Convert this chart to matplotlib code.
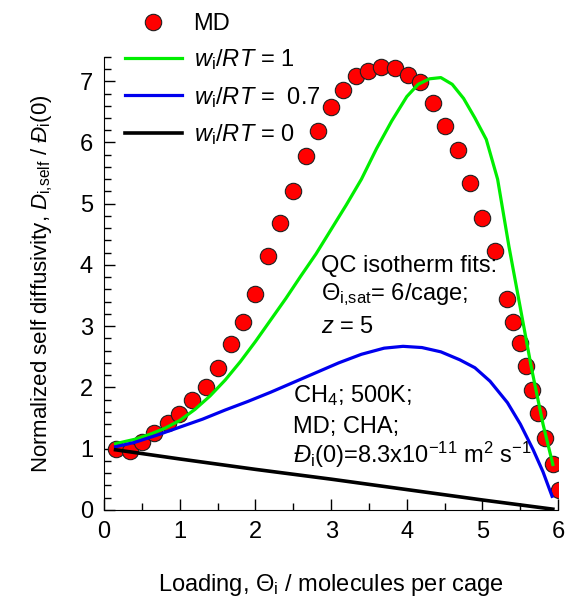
# ==========================================
# plot.py
# Normalized self diffusivity of CH4 in CHA
# ==========================================

import numpy as np
import matplotlib
matplotlib.use("Agg")
import matplotlib.pyplot as plt
from matplotlib.ticker import MultipleLocator

# ==========================================
# DATA
# ==========================================

md_loading = [0.15, 0.34, 0.50, 0.66, 0.85, 0.99, 1.16, 1.34, 1.51, 1.67,
              1.84, 2.00, 2.17, 2.33, 2.50, 2.67, 2.83, 3.00, 3.16, 3.33,
              3.49, 3.66, 3.84, 4.01, 4.17, 4.34, 4.50, 4.67, 4.83, 5.00,
              5.16, 5.33, 5.41, 5.50, 5.58, 5.66, 5.74, 5.83, 5.93, 6.01]
md_diff = [1.00, 0.96, 1.11, 1.26, 1.42, 1.57, 1.80, 2.01, 2.32, 2.71,
           3.07, 3.53, 4.15, 4.69, 5.20, 5.78, 6.18, 6.58, 6.86, 7.09,
           7.16, 7.24, 7.21, 7.11, 6.99, 6.65, 6.27, 5.88, 5.34, 4.77,
           4.22, 3.45, 3.07, 2.73, 2.35, 1.96, 1.58, 1.18, 0.75, 0.33]

w1_loading = [0.15, 0.4, 0.6, 0.8, 1.0, 1.2, 1.4, 1.6, 1.8, 2.0, 2.2,
              2.4, 2.6, 2.8, 3.0, 3.2, 3.4, 3.6, 3.8, 4.0, 4.15, 4.3,
              4.45, 4.6, 4.75, 4.9, 5.05, 5.2, 5.35, 5.5, 5.65, 5.8, 5.93]
w1_diff = [1.08, 1.15, 1.23, 1.33, 1.46, 1.64, 1.86, 2.12, 2.42, 2.75,
           3.10, 3.45, 3.82, 4.18, 4.58, 4.98, 5.40, 5.90, 6.35, 6.75,
           6.95, 7.04, 7.06, 6.95, 6.72, 6.40, 6.05, 5.40, 4.30, 3.30,
           2.30, 1.40, 0.74]

w07_loading = [0.15, 0.4, 0.7, 1.0, 1.3, 1.6, 1.9, 2.2, 2.5, 2.8, 3.1,
               3.4, 3.7, 3.95, 4.2, 4.45, 4.7, 4.9, 5.1, 5.33, 5.5,
               5.67, 5.8, 5.92]
w07_diff = [1.03, 1.10, 1.22, 1.35, 1.48, 1.63, 1.77, 1.92, 2.08, 2.24,
            2.40, 2.54, 2.64, 2.67, 2.65, 2.58, 2.45, 2.32, 2.10, 1.75,
            1.40, 0.98, 0.62, 0.22]

w0_loading = [0.15, 1.0, 2.0, 3.0, 4.0, 5.0, 5.93]
w0_diff = [0.98, 0.83, 0.66, 0.50, 0.33, 0.16, 0.01]

# ==========================================
# STYLE
# ==========================================

plt.rcParams["font.family"] = ["Liberation Sans", "DejaVu Sans"]
plt.rcParams["mathtext.fontset"] = "custom"
plt.rcParams["mathtext.rm"] = "Liberation Sans"
plt.rcParams["mathtext.it"] = "Liberation Sans:italic"
plt.rcParams["mathtext.bf"] = "Liberation Sans:bold"

FS = 17

# ==========================================
# FIGURE
# ==========================================

fig = plt.figure(figsize=(5.82, 6.04), dpi=100)

ax = fig.add_axes([0.179, 0.156, 0.780, 0.750])

ax.plot(md_loading, md_diff, "o", color="red", markeredgecolor="#202020",
        markeredgewidth=0.8, markersize=11.8, label="MD", zorder=3)

ax.plot(w1_loading, w1_diff, color="#00ee00", lw=2.3,
        label="$w_\\mathrm{i}/RT$ = 1", zorder=4)

ax.plot(w07_loading, w07_diff, color="#0000ee", lw=2.3,
        label="$w_\\mathrm{i}/RT$ =  0.7", zorder=4)

ax.plot(w0_loading, w0_diff, color="black", lw=2.6,
        label="$w_\\mathrm{i}/RT$ = 0", zorder=4)

# ==========================================
# AXES
# ==========================================

ax.set_xlim(0, 6)
ax.set_ylim(0, 7.4)

ax.xaxis.set_major_locator(MultipleLocator(1))
ax.xaxis.set_minor_locator(MultipleLocator(0.5))
ax.yaxis.set_major_locator(MultipleLocator(1))
ax.yaxis.set_minor_locator(MultipleLocator(0.2))

ax.tick_params(which="both", direction="in", labelsize=FS, width=1,
               top=False, right=False)
ax.tick_params(which="major", length=8, pad=8)
ax.tick_params(which="minor", length=5)

ax.spines["top"].set_visible(False)
ax.spines["right"].set_visible(False)

ax.set_xlabel("Loading, $\\Theta_\\mathrm{i}$ / molecules per cage",
              fontsize=FS, labelpad=21)
ax.set_ylabel("Normalized self diffusivity, $D_\\mathrm{i{,}self}$ / "
              "$\\mathit{Đ}_\\mathrm{i}$(0)", fontsize=16, labelpad=18)

# ==========================================
# ANNOTATIONS
# ==========================================

ax.text(2.86, 3.89, "QC isotherm fits:", fontsize=FS, va="baseline")
ax.text(2.86, 3.43, "$\\Theta_\\mathrm{i{,}sat}$= 6/cage;", fontsize=FS,
        va="baseline")
ax.text(2.86, 2.89, "$z$ = 5", fontsize=FS, va="baseline")

ax.text(2.49, 1.76, "CH$_4$; 500K;", fontsize=FS, va="baseline")
ax.text(2.49, 1.26, "MD; CHA;", fontsize=FS, va="baseline")
ax.text(2.49, 0.77,
        "$\\mathit{Đ}_\\mathrm{i}$(0)=8.3x10$^{-11}$ m$^2$ s$^{-1}$",
        fontsize=FS, va="baseline")

# ==========================================
# LEGEND
# ==========================================

ax.legend(loc="upper left", bbox_to_anchor=(0.215, 0.978),
          bbox_transform=fig.transFigure, frameon=False, fontsize=FS,
          borderpad=0, borderaxespad=0, handlelength=2.4,
          handletextpad=0.5, labelspacing=0.52)

# ==========================================
# SAVE
# ==========================================

fig.savefig("out.png", dpi=100)
